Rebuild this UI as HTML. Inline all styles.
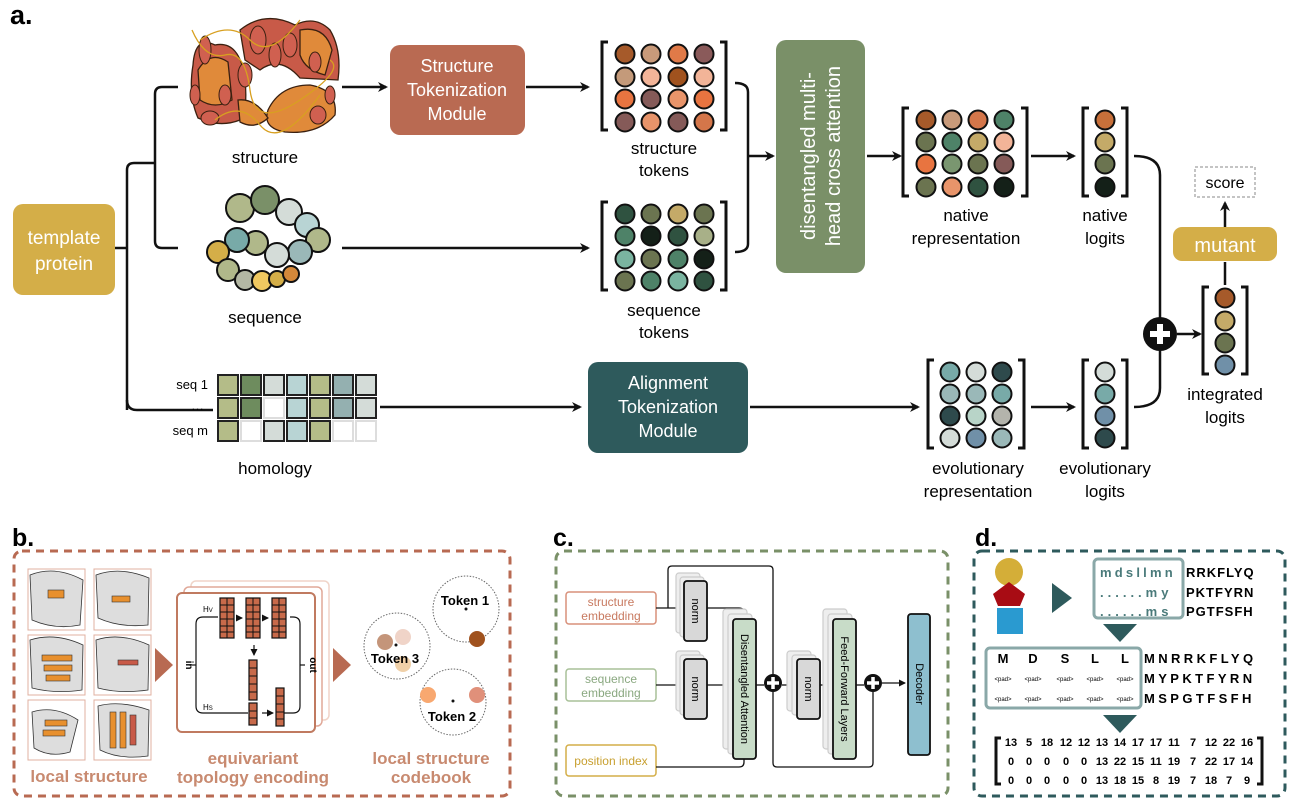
<!DOCTYPE html>
<html><head><meta charset="utf-8"><style>
html,body{margin:0;padding:0;background:#fff}
svg{display:block}
text{font-family:"Liberation Sans",Arial,sans-serif}
</style></head><body>
<svg width="1295" height="810" viewBox="0 0 1295 810" xmlns="http://www.w3.org/2000/svg">
<defs>
<marker id="ah" markerWidth="10" markerHeight="10" refX="8" refY="5" orient="auto" markerUnits="userSpaceOnUse"><path d="M0,0 L10,5 L0,10 L3,5 z" fill="#111"/></marker>
<marker id="ahs" markerWidth="7" markerHeight="7" refX="6" refY="3.5" orient="auto" markerUnits="userSpaceOnUse"><path d="M0,0 L7,3.5 L0,7 z" fill="#111"/></marker>
</defs>

<text x="10" y="24" font-size="27" font-weight="bold">a.</text>

<rect x="13" y="204" width="102" height="91" rx="10" fill="#d4ae48"/>
<text x="64" y="244" font-size="19" fill="#fff" text-anchor="middle">template</text>
<text x="64" y="270" font-size="19" fill="#fff" text-anchor="middle">protein</text>

<g fill="none" stroke="#111" stroke-width="2.5">
<path d="M115,248 H127"/>
<path d="M127,410 V170 Q127,163 134,163 H155"/>
<path d="M178,87 H162 Q155,87 155,94 V241 Q155,248 162,248 H178"/>
<path d="M127,400 Q127,410 137,410 H213"/>
<path d="M342,87 H386" marker-end="url(#ah)"/>
<path d="M526,87 H588" marker-end="url(#ah)"/>
<path d="M342,248 H588" marker-end="url(#ah)"/>
<path d="M735,83 Q748,83 748,92 V244 Q748,252 735,252"/>
<path d="M748,156 H773" marker-end="url(#ah)"/>
<path d="M867,156 H900" marker-end="url(#ah)"/>
<path d="M1031,156 H1074" marker-end="url(#ah)"/>
<path d="M1134,156 Q1160,156 1160,175 V388 Q1160,407 1134,407"/>
<path d="M1177,334 H1200" marker-end="url(#ah)"/>
<path d="M1225,285 V262"/>
<path d="M1225,227 V203" marker-end="url(#ah)"/>
<path d="M380,407 H580" marker-end="url(#ah)"/>
<path d="M750,407 H918" marker-end="url(#ah)"/>
<path d="M1031,407 H1074" marker-end="url(#ah)"/>
</g>

<!-- structure blob: ring -->
<g stroke="#3a2010" stroke-width="1.3">
<path d="M193,65 Q195,35 215,45 Q240,40 245,80 Q248,110 240,120 Q220,128 198,118 Q188,95 193,65 Z" fill="#c85a48"/>
<path d="M240,30 Q265,10 295,25 Q315,15 330,30 Q342,50 338,80 L300,78 Q280,55 260,70 L245,60 Z" fill="#c85a48"/>
<path d="M268,110 Q280,85 310,85 Q338,90 335,115 Q318,135 285,132 Q262,128 268,110 Z" fill="#e08a3a"/>
<path d="M198,70 Q210,50 228,62 L232,100 Q215,110 200,100 Z" fill="#e08a3a"/>
<path d="M300,30 Q325,25 332,50 L325,75 Q305,70 300,55 Z" fill="#e08a3a"/>
<path d="M238,100 Q255,98 268,118 Q255,130 240,122 Z" fill="#e08a3a"/>
</g>
<g fill="#d06050" stroke="#3a2010" stroke-width="1">
<ellipse cx="205" cy="50" rx="6" ry="14"/><ellipse cx="258" cy="40" rx="8" ry="14"/><ellipse cx="275" cy="55" rx="6" ry="12"/>
<ellipse cx="245" cy="75" rx="7" ry="12"/><ellipse cx="318" cy="115" rx="8" ry="9"/><ellipse cx="210" cy="118" rx="9" ry="7"/>
<ellipse cx="290" cy="45" rx="7" ry="12"/><ellipse cx="225" cy="95" rx="6" ry="10"/><ellipse cx="195" cy="95" rx="5" ry="10"/>
<ellipse cx="315" cy="62" rx="6" ry="10"/><ellipse cx="330" cy="95" rx="5" ry="9"/>
</g>
<g fill="none" stroke="#d8a020" stroke-width="1.3">
<path d="M192,30 Q205,60 225,55 T250,90 T300,100 T330,60"/>
<path d="M215,120 Q240,100 260,125 T320,95"/>
<path d="M200,40 Q230,20 250,40 T300,20"/>
</g>
<text x="265" y="163" font-size="17" text-anchor="middle">structure</text>

<g stroke="#111" stroke-width="2">
<circle cx="240" cy="208" r="14" fill="#b0b88a"/>
<circle cx="265" cy="200" r="14" fill="#7a9068"/>
<circle cx="289" cy="212" r="13" fill="#d4dcd8"/>
<circle cx="307" cy="225" r="12" fill="#b8d4d4"/>
<circle cx="318" cy="240" r="12" fill="#b0b88a"/>
<circle cx="300" cy="252" r="12" fill="#9ab8b8"/>
<circle cx="277" cy="255" r="12" fill="#d4dcd8"/>
<circle cx="256" cy="243" r="12" fill="#b0b88a"/>
<circle cx="237" cy="240" r="12" fill="#78aaa8"/>
<circle cx="218" cy="252" r="11" fill="#d4ae48"/>
<circle cx="228" cy="270" r="11" fill="#b0b88a"/>
<circle cx="245" cy="280" r="10" fill="#b4b8a4"/>
<circle cx="262" cy="281" r="10" fill="#f0c860"/>
<circle cx="277" cy="279" r="8" fill="#d4ae48"/>
<circle cx="291" cy="274" r="8" fill="#d4883a"/>
</g>
<text x="265" y="323" font-size="17" text-anchor="middle">sequence</text>

<rect x="390" y="45" width="135" height="90" rx="10" fill="#b96a52"/>
<text x="457" y="72" font-size="18" fill="#fff" text-anchor="middle">Structure</text>
<text x="457" y="96" font-size="18" fill="#fff" text-anchor="middle">Tokenization</text>
<text x="457" y="120" font-size="18" fill="#fff" text-anchor="middle">Module</text>

<g fill="none" stroke="#111" stroke-width="3">
<path d="M608,42 H602 V130 H608"/><path d="M720,42 H726 V130 H720"/>
<path d="M608,202 H602 V290 H608"/><path d="M720,202 H726 V290 H720"/>
<path d="M909,108 H903 V196 H909"/><path d="M1021,108 H1027 V196 H1021"/>
<path d="M1089,108 H1083 V196 H1089"/><path d="M1121,108 H1127 V196 H1121"/>
<path d="M934,360 H928 V448 H934"/><path d="M1018,360 H1024 V448 H1018"/>
<path d="M1089,360 H1083 V448 H1089"/><path d="M1121,360 H1127 V448 H1121"/>
<path d="M1209,287 H1203 V374 H1209"/><path d="M1241,287 H1247 V374 H1241"/>
</g>

<g stroke="#111" stroke-width="2">
<circle cx="625" cy="54" r="9.5" fill="#a65a2a"/><circle cx="651" cy="54" r="9.5" fill="#c89a7a"/><circle cx="678" cy="54" r="9.5" fill="#e07a48"/><circle cx="704" cy="54" r="9.5" fill="#8a5a5a"/>
<circle cx="625" cy="77" r="9.5" fill="#c49a7a"/><circle cx="651" cy="77" r="9.5" fill="#f2b498"/><circle cx="678" cy="77" r="9.5" fill="#a0521e"/><circle cx="704" cy="77" r="9.5" fill="#f2b498"/>
<circle cx="625" cy="99" r="9.5" fill="#e87440"/><circle cx="651" cy="99" r="9.5" fill="#855a58"/><circle cx="678" cy="99" r="9.5" fill="#e8946a"/><circle cx="704" cy="99" r="9.5" fill="#e87440"/>
<circle cx="625" cy="122" r="9.5" fill="#855a58"/><circle cx="651" cy="122" r="9.5" fill="#e8946a"/><circle cx="678" cy="122" r="9.5" fill="#855a58"/><circle cx="704" cy="122" r="9.5" fill="#d4764a"/>
<circle cx="625" cy="214" r="9.5" fill="#2f5240"/><circle cx="651" cy="214" r="9.5" fill="#6b7450"/><circle cx="678" cy="214" r="9.5" fill="#c4aa68"/><circle cx="704" cy="214" r="9.5" fill="#6b7450"/>
<circle cx="625" cy="236" r="9.5" fill="#4e8268"/><circle cx="651" cy="236" r="9.5" fill="#142018"/><circle cx="678" cy="236" r="9.5" fill="#2f5240"/><circle cx="704" cy="236" r="9.5" fill="#a8b088"/>
<circle cx="625" cy="259" r="9.5" fill="#7ab4a0"/><circle cx="651" cy="259" r="9.5" fill="#6b7450"/><circle cx="678" cy="259" r="9.5" fill="#4e8268"/><circle cx="704" cy="259" r="9.5" fill="#142018"/>
<circle cx="625" cy="281" r="9.5" fill="#6b7450"/><circle cx="651" cy="281" r="9.5" fill="#4e8268"/><circle cx="678" cy="281" r="9.5" fill="#7ab4a0"/><circle cx="704" cy="281" r="9.5" fill="#2f5240"/>
<circle cx="926" cy="120" r="9.5" fill="#a65a2a"/><circle cx="952" cy="120" r="9.5" fill="#c89a7a"/><circle cx="978" cy="120" r="9.5" fill="#d4764a"/><circle cx="1004" cy="120" r="9.5" fill="#4e8268"/>
<circle cx="926" cy="142" r="9.5" fill="#6b7450"/><circle cx="952" cy="142" r="9.5" fill="#4e8268"/><circle cx="978" cy="142" r="9.5" fill="#c4aa68"/><circle cx="1004" cy="142" r="9.5" fill="#f2b498"/>
<circle cx="926" cy="164" r="9.5" fill="#e87440"/><circle cx="952" cy="164" r="9.5" fill="#7a9670"/><circle cx="978" cy="164" r="9.5" fill="#6b7450"/><circle cx="1004" cy="164" r="9.5" fill="#855a58"/>
<circle cx="926" cy="187" r="9.5" fill="#6b7450"/><circle cx="952" cy="187" r="9.5" fill="#e8946a"/><circle cx="978" cy="187" r="9.5" fill="#2f5240"/><circle cx="1004" cy="187" r="9.5" fill="#142018"/>
<circle cx="1105" cy="120" r="9.5" fill="#c8703a"/><circle cx="1105" cy="142" r="9.5" fill="#c4aa68"/><circle cx="1105" cy="164" r="9.5" fill="#6b7450"/><circle cx="1105" cy="187" r="9.5" fill="#142018"/>
<circle cx="950" cy="372" r="9.5" fill="#78aaa8"/><circle cx="976" cy="372" r="9.5" fill="#d4dcd8"/><circle cx="1002" cy="372" r="9.5" fill="#2e4a4c"/>
<circle cx="950" cy="394" r="9.5" fill="#9ab8b8"/><circle cx="976" cy="394" r="9.5" fill="#9ab8b8"/><circle cx="1002" cy="394" r="9.5" fill="#78aaa8"/>
<circle cx="950" cy="416" r="9.5" fill="#2e4a4c"/><circle cx="976" cy="416" r="9.5" fill="#b8d4c8"/><circle cx="1002" cy="416" r="9.5" fill="#b4b4ac"/>
<circle cx="950" cy="438" r="9.5" fill="#d4dcd8"/><circle cx="976" cy="438" r="9.5" fill="#7090a8"/><circle cx="1002" cy="438" r="9.5" fill="#9ab8b8"/>
<circle cx="1105" cy="372" r="9.5" fill="#d4dcd8"/><circle cx="1105" cy="394" r="9.5" fill="#78aaa8"/><circle cx="1105" cy="416" r="9.5" fill="#7090a8"/><circle cx="1105" cy="438" r="9.5" fill="#2e4a4c"/>
<circle cx="1225" cy="298" r="9.5" fill="#a65a2a"/><circle cx="1225" cy="321" r="9.5" fill="#c4aa68"/><circle cx="1225" cy="343" r="9.5" fill="#6b7450"/><circle cx="1225" cy="365" r="9.5" fill="#7090a8"/>
</g>

<g font-size="17" text-anchor="middle">
<text x="664" y="154">structure</text><text x="664" y="176">tokens</text>
<text x="664" y="316">sequence</text><text x="664" y="338">tokens</text>
<text x="966" y="221">native</text><text x="966" y="244">representation</text>
<text x="1105" y="221">native</text><text x="1105" y="244">logits</text>
<text x="978" y="474">evolutionary</text><text x="978" y="497">representation</text>
<text x="1105" y="474">evolutionary</text><text x="1105" y="497">logits</text>
<text x="1225" y="400">integrated</text><text x="1225" y="423">logits</text>
<text x="275" y="474">homology</text>
</g>

<rect x="776" y="40" width="89" height="233" rx="10" fill="#7a9068"/>
<g transform="translate(820,156) rotate(-90)" fill="#fff" font-size="20" text-anchor="middle">
<text x="0" y="-5">disentangled multi-</text><text x="0" y="20">head cross attention</text>
</g>

<circle cx="1160" cy="334" r="17" fill="#111"/>
<path d="M1160,324 V344 M1150,334 H1170" stroke="#fff" stroke-width="6"/>

<rect x="1173" y="227" width="104" height="34" rx="9" fill="#d4ae48"/>
<text x="1225" y="252" font-size="20" fill="#fff" text-anchor="middle">mutant</text>
<rect x="1195" y="167" width="60" height="30" fill="none" stroke="#888" stroke-width="1" stroke-dasharray="3,2"/>
<text x="1225" y="188" font-size="16" text-anchor="middle">score</text>

<g font-size="13" text-anchor="end"><text x="208" y="389">seq 1</text><text x="204" y="410">…</text><text x="208" y="435">seq m</text></g>
<g stroke="#222" stroke-width="2">
<rect x="218" y="375" width="20" height="20" fill="#b4bc88"/><rect x="241" y="375" width="20" height="20" fill="#6e8c5e"/><rect x="264" y="375" width="20" height="20" fill="#d4dcd8"/><rect x="287" y="375" width="20" height="20" fill="#b8d4d4"/><rect x="310" y="375" width="20" height="20" fill="#b4bc88"/><rect x="333" y="375" width="20" height="20" fill="#94b0b0"/><rect x="356" y="375" width="20" height="20" fill="#d4dcd8"/>
<rect x="218" y="398" width="20" height="20" fill="#b4bc88"/><rect x="241" y="398" width="20" height="20" fill="#6e8c5e"/><rect x="264" y="398" width="20" height="20" fill="#fff" stroke="#ddd"/><rect x="287" y="398" width="20" height="20" fill="#b8d4d4"/><rect x="310" y="398" width="20" height="20" fill="#b4bc88"/><rect x="333" y="398" width="20" height="20" fill="#94b0b0"/><rect x="356" y="398" width="20" height="20" fill="#d4dcd8"/>
<rect x="218" y="421" width="20" height="20" fill="#b4bc88"/><rect x="241" y="421" width="20" height="20" fill="#fff" stroke="#ddd"/><rect x="264" y="421" width="20" height="20" fill="#d4dcd8"/><rect x="287" y="421" width="20" height="20" fill="#b8d4d4"/><rect x="310" y="421" width="20" height="20" fill="#b4bc88"/><rect x="333" y="421" width="20" height="20" fill="#fff" stroke="#ddd"/><rect x="356" y="421" width="20" height="20" fill="#fff" stroke="#ddd"/>
</g>

<rect x="588" y="362" width="160" height="91" rx="10" fill="#2e5a5c"/>
<text x="668" y="389" font-size="18" fill="#fff" text-anchor="middle">Alignment</text>
<text x="668" y="413" font-size="18" fill="#fff" text-anchor="middle">Tokenization</text>
<text x="668" y="437" font-size="18" fill="#fff" text-anchor="middle">Module</text>

<!-- panel b -->
<text x="12" y="546" font-size="25" font-weight="bold">b.</text>
<rect x="14" y="551" width="496" height="245" rx="8" fill="none" stroke="#b86a52" stroke-width="3" stroke-dasharray="8,6"/>
<g stroke="#e0b0a0" stroke-width="1" fill="#fff">
<rect x="28" y="569" width="57" height="61"/><rect x="94" y="569" width="57" height="61"/>
<rect x="28" y="635" width="57" height="60"/><rect x="94" y="635" width="57" height="60"/>
<rect x="28" y="700" width="57" height="60"/><rect x="94" y="700" width="57" height="60"/>
</g>
<g fill="#ddd" stroke="#333" stroke-width="0.8">
<path d="M30,575 Q55,565 83,580 L80,625 Q55,630 32,620 Z"/><path d="M96,575 Q120,566 149,578 L148,625 Q120,628 98,618 Z"/>
<path d="M30,640 Q55,632 83,645 L82,690 Q55,694 32,688 Z"/><path d="M96,640 Q120,632 149,645 L148,690 Q120,694 98,688 Z"/>
<path d="M32,712 Q55,705 78,720 L70,752 Q50,758 34,748 Z"/><path d="M98,706 Q120,700 149,710 L148,756 Q120,760 100,750 Z"/>
</g>
<g fill="#e8902e" stroke="#333" stroke-width="0.6">
<rect x="48" y="590" width="16" height="8"/><rect x="112" y="596" width="18" height="6"/>
<rect x="42" y="655" width="30" height="6"/><rect x="44" y="665" width="28" height="6"/><rect x="46" y="675" width="24" height="6"/>
<rect x="118" y="660" width="20" height="5" fill="#c85a48"/>
<rect x="45" y="720" width="22" height="6"/><rect x="43" y="730" width="22" height="6"/>
<rect x="110" y="712" width="6" height="36"/><rect x="120" y="712" width="6" height="36"/><rect x="130" y="715" width="6" height="30" fill="#c85a48"/>
</g>
<path d="M155,648 L173,665 L155,682 Z" fill="#b86a52"/>
<path d="M333,648 L351,665 L333,682 Z" fill="#b86a52"/>
<rect x="191" y="581" width="138" height="139" rx="5" fill="#fff" stroke="#f0d4c8" stroke-width="1.5"/>
<rect x="184" y="587" width="138" height="139" rx="5" fill="#fff" stroke="#e0a898" stroke-width="1.5"/>
<rect x="177" y="593" width="138" height="139" rx="5" fill="#fff" stroke="#c07a60" stroke-width="2"/>
<g fill="none" stroke="#111" stroke-width="1.2">
<path d="M218,617 H203 Q196,617 196,624 V706 Q196,713 203,713 H248"/>
<path d="M191,665 H196"/><path d="M290,617 H293 Q300,617 300,624 V706 Q300,713 293,713 H284"/><path d="M300,665 H305"/>
<path d="M236,618 H242" marker-end="url(#ahs)"/><path d="M262,618 H268" marker-end="url(#ahs)"/>
<path d="M254,645 V655" marker-end="url(#ahs)"/><path d="M262,713 H273" marker-end="url(#ahs)"/>
</g>
<text x="203" y="612" font-size="8" font-family="Liberation Serif">H<tspan font-size="6">V</tspan></text>
<text x="203" y="710" font-size="8" font-family="Liberation Serif">H<tspan font-size="6">S</tspan></text>
<text transform="translate(186,665) rotate(90)" font-size="10" font-weight="bold" text-anchor="middle">in</text>
<text transform="translate(310,665) rotate(90)" font-size="10" font-weight="bold" text-anchor="middle">out</text>
<g fill="#c86a4a" stroke="#111" stroke-width="1.2">
<rect x="220" y="598" width="14" height="40"/><rect x="246" y="598" width="14" height="40"/><rect x="272" y="598" width="14" height="40"/>
<rect x="249" y="660" width="8" height="40"/><rect x="249" y="703" width="8" height="22"/><rect x="276" y="688" width="8" height="38"/>
</g>
<g stroke="#111" stroke-width="1" fill="none">
<path d="M227,598 V638 M220,605 H234 M220,612 H234 M220,619 H234 M220,626 H234 M220,632 H234"/>
<path d="M253,598 V638 M246,605 H260 M246,612 H260 M246,619 H260 M246,626 H260 M246,632 H260"/>
<path d="M279,598 V638 M272,605 H286 M272,612 H286 M272,619 H286 M272,626 H286 M272,632 H286"/>
<path d="M249,668 H257 M249,676 H257 M249,684 H257 M249,692 H257 M249,711 H257 M249,718 H257 M276,696 H284 M276,704 H284 M276,712 H284 M276,719 H284"/>
</g>
<g fill="none" stroke="#666" stroke-width="1" stroke-dasharray="1.5,1.5">
<circle cx="466" cy="609" r="33"/><circle cx="397" cy="646" r="33"/><circle cx="453" cy="702" r="33"/>
</g>
<circle cx="477" cy="639" r="8" fill="#a0521e"/>
<circle cx="385" cy="642" r="8" fill="#c4957a"/><circle cx="403" cy="637" r="8" fill="#f0d4c8"/><circle cx="403" cy="664" r="8" fill="#f0d0a8"/>
<circle cx="428" cy="695" r="8" fill="#f8a870"/><circle cx="477" cy="695" r="8" fill="#e0907a"/>
<circle cx="466" cy="609" r="1.5" fill="#111"/><circle cx="396" cy="645" r="1.5" fill="#111"/><circle cx="453" cy="701" r="1.5" fill="#111"/>
<g font-size="13" font-weight="bold" text-anchor="middle">
<text x="465" y="605">Token 1</text><text x="395" y="663">Token 3</text><text x="452" y="721">Token 2</text>
</g>
<g font-size="17" font-weight="bold" fill="#c88a70" text-anchor="middle">
<text x="89" y="782">local structure</text>
<text x="253" y="764">equivariant</text><text x="253" y="783">topology encoding</text>
<text x="431" y="764">local structure</text><text x="431" y="783">codebook</text>
</g>

<!-- panel c -->
<text x="553" y="546" font-size="25" font-weight="bold">c.</text>
<rect x="556" y="551" width="392" height="245" rx="8" fill="none" stroke="#7a9068" stroke-width="3" stroke-dasharray="8,6"/>
<rect x="566" y="592" width="90" height="32" rx="3" fill="#fff" stroke="#d8907a" stroke-width="1.5"/>
<text x="611" y="606" font-size="12" fill="#c87a60" text-anchor="middle">structure</text><text x="611" y="620" font-size="12" fill="#c87a60" text-anchor="middle">embedding</text>
<rect x="566" y="669" width="90" height="32" rx="3" fill="#fff" stroke="#a8c098" stroke-width="1.5"/>
<text x="611" y="683" font-size="12" fill="#8aa880" text-anchor="middle">sequence</text><text x="611" y="697" font-size="12" fill="#8aa880" text-anchor="middle">embedding</text>
<rect x="566" y="745" width="90" height="31" rx="3" fill="#fff" stroke="#d4ae48" stroke-width="1.5"/>
<text x="611" y="765" font-size="12" fill="#c8a030" text-anchor="middle">position index</text>
<g fill="none" stroke="#111" stroke-width="1.3">
<path d="M656,608 H683"/><path d="M668,608 V570 Q668,566 672,566 H769 Q773,566 773,570 V674"/>
<path d="M707,608 H739 Q744,608 744,613 V619"/>
<path d="M656,685 H683"/><path d="M707,685 H733"/>
<path d="M656,767 H739 Q744,767 744,762 V759"/>
<path d="M756,685 H764"/><path d="M782,685 H797"/><path d="M820,685 H833"/><path d="M856,685 H864"/>
<path d="M773,692 V763 Q773,767 777,767 H869 Q873,767 873,763 V692"/>
<path d="M882,683 H905" marker-end="url(#ahs)"/>
</g>
<g stroke="#ccc" stroke-width="1.2" fill="#eee">
<rect x="676" y="573" width="24" height="60" rx="3"/><rect x="680" y="577" width="24" height="60" rx="3"/>
<rect x="676" y="651" width="24" height="60" rx="3"/><rect x="680" y="655" width="24" height="60" rx="3"/>
<rect x="723" y="609" width="24" height="140" rx="3"/><rect x="728" y="614" width="24" height="140" rx="3"/>
<rect x="787" y="651" width="24" height="60" rx="3"/><rect x="792" y="655" width="24" height="60" rx="3"/>
<rect x="823" y="609" width="24" height="140" rx="3"/><rect x="828" y="614" width="24" height="140" rx="3"/>
</g>
<g stroke="#111" stroke-width="1.8">
<rect x="684" y="581" width="23" height="60" rx="3" fill="#d8d8d8"/>
<rect x="684" y="659" width="23" height="60" rx="3" fill="#d8d8d8"/>
<rect x="733" y="619" width="23" height="140" rx="3" fill="#c8dcc8"/>
<rect x="797" y="659" width="23" height="60" rx="3" fill="#d8d8d8"/>
<rect x="833" y="619" width="23" height="140" rx="3" fill="#c8dcc8"/>
<rect x="908" y="614" width="22" height="141" rx="3" fill="#8ebfcf"/>
</g>
<g font-size="11" text-anchor="middle">
<text transform="translate(692,611) rotate(90)">norm</text>
<text transform="translate(692,689) rotate(90)">norm</text>
<text transform="translate(805,689) rotate(90)">norm</text>
<text transform="translate(741,689) rotate(90)">Disentangled Attention</text>
<text transform="translate(841,689) rotate(90)">Feed-Forward Layers</text>
<text transform="translate(916,684) rotate(90)">Decoder</text>
</g>
<circle cx="773" cy="683" r="9" fill="#111"/><path d="M773,677 V689 M767,683 H779" stroke="#fff" stroke-width="3.5"/>
<circle cx="873" cy="683" r="9" fill="#111"/><path d="M873,677 V689 M867,683 H879" stroke="#fff" stroke-width="3.5"/>

<!-- panel d -->
<text x="975" y="546" font-size="25" font-weight="bold">d.</text>
<rect x="974" y="551" width="311" height="245" rx="8" fill="none" stroke="#2e5a5c" stroke-width="3" stroke-dasharray="8,6"/>
<circle cx="1009" cy="572" r="14" fill="#d4ae38"/>
<path d="M1009,582 L1025,594 L1020,606 L998,606 L993,594 Z" fill="#a80c14"/>
<rect x="997" y="608" width="26" height="26" fill="#2a9ad0"/>
<path d="M1052,583 L1072,598 L1052,613 Z" fill="#2e5a5c"/>
<rect x="1094" y="559" width="89" height="59" rx="4" fill="none" stroke="#8aa8a8" stroke-width="3"/>
<g font-size="13" fill="#4a7a7a" font-weight="bold">
<text x="1100" y="577" letter-spacing="3.2">mdsllmn</text>
<text x="1100" y="597" letter-spacing="4">......my</text>
<text x="1100" y="616" letter-spacing="4">......ms</text>
</g>
<g font-size="13" font-weight="bold">
<text x="1186" y="577" letter-spacing="1">RRKFLYQ</text>
<text x="1186" y="597" letter-spacing="1">PKTFYRN</text>
<text x="1186" y="616" letter-spacing="1">PGTFSFH</text>
</g>
<path d="M1103,624 L1137,624 L1120,642 Z" fill="#2e5a5c"/>
<rect x="986" y="648" width="155" height="60" rx="4" fill="none" stroke="#8aa8a8" stroke-width="3"/>
<g font-size="13" font-weight="bold" text-anchor="middle">
<text x="1003" y="663">M</text><text x="1033" y="663">D</text><text x="1065" y="663">S</text><text x="1095" y="663">L</text><text x="1125" y="663">L</text>
</g>
<g font-size="6" text-anchor="middle">
<text x="1003" y="681">&lt;pad&gt;</text><text x="1033" y="681">&lt;pad&gt;</text><text x="1065" y="681">&lt;pad&gt;</text><text x="1095" y="681">&lt;pad&gt;</text><text x="1125" y="681">&lt;pad&gt;</text>
<text x="1003" y="701">&lt;pad&gt;</text><text x="1033" y="701">&lt;pad&gt;</text><text x="1065" y="701">&lt;pad&gt;</text><text x="1095" y="701">&lt;pad&gt;</text><text x="1125" y="701">&lt;pad&gt;</text>
</g>
<g font-size="13" font-weight="bold">
<text x="1144" y="663" letter-spacing="3.4">MNRRKFLYQ</text>
<text x="1144" y="683" letter-spacing="3.4">MYPKTFYRN</text>
<text x="1144" y="703" letter-spacing="3.4">MSPGTFSFH</text>
</g>
<path d="M1103,715 L1137,715 L1120,733 Z" fill="#2e5a5c"/>
<g fill="none" stroke="#111" stroke-width="3">
<path d="M1001,738 H996 V784 H1001"/><path d="M1257,738 H1262 V784 H1257"/>
</g>
<g font-size="11" font-weight="bold" text-anchor="middle">
<text y="746"><tspan x="1011">13</tspan><tspan x="1029">5</tspan><tspan x="1047">18</tspan><tspan x="1066">12</tspan><tspan x="1084">12</tspan><tspan x="1102">13</tspan><tspan x="1120">14</tspan><tspan x="1138">17</tspan><tspan x="1156">17</tspan><tspan x="1174">11</tspan><tspan x="1193">7</tspan><tspan x="1211">12</tspan><tspan x="1229">22</tspan><tspan x="1247">16</tspan></text>
<text y="765"><tspan x="1011">0</tspan><tspan x="1029">0</tspan><tspan x="1047">0</tspan><tspan x="1066">0</tspan><tspan x="1084">0</tspan><tspan x="1102">13</tspan><tspan x="1120">22</tspan><tspan x="1138">15</tspan><tspan x="1156">11</tspan><tspan x="1174">19</tspan><tspan x="1193">7</tspan><tspan x="1211">22</tspan><tspan x="1229">17</tspan><tspan x="1247">14</tspan></text>
<text y="784"><tspan x="1011">0</tspan><tspan x="1029">0</tspan><tspan x="1047">0</tspan><tspan x="1066">0</tspan><tspan x="1084">0</tspan><tspan x="1102">13</tspan><tspan x="1120">18</tspan><tspan x="1138">15</tspan><tspan x="1156">8</tspan><tspan x="1174">19</tspan><tspan x="1193">7</tspan><tspan x="1211">18</tspan><tspan x="1229">7</tspan><tspan x="1247">9</tspan></text>
</g>
</svg>
</body></html>
